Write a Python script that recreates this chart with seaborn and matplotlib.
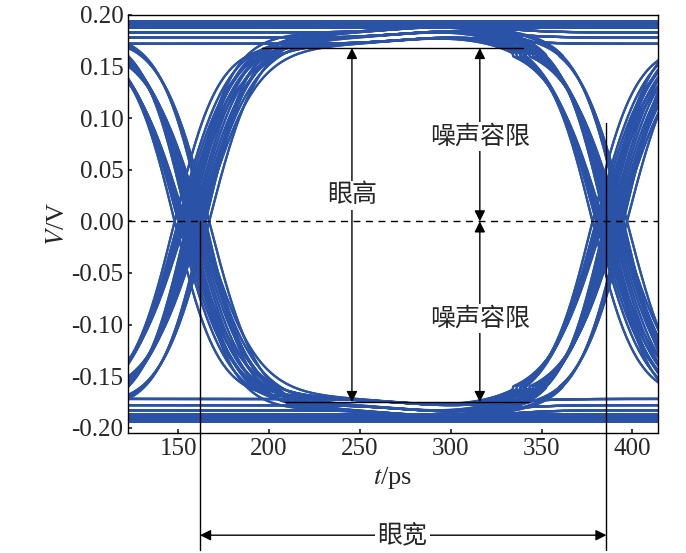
import numpy as np
import matplotlib
matplotlib.use("Agg")
import matplotlib.pyplot as plt
import seaborn as sns

sns.set_theme(style="ticks")
plt.rcParams['font.family'] = ['Liberation Serif', 'Noto Sans CJK SC']
plt.rcParams['mathtext.fontset'] = 'stix'

# eye-diagram parameters
crossings = [-73, 157, 387, 617]          # ps, bit boundaries
jitter = [-7, -4, -1, 2, 5, 8]            # ps, crossing spread
levels = [0.172, 0.178, 0.183]            # V, settled level after a transition
rail = 0.19                               # V, steady level for long runs
width = [24, 27, 30]                      # ps, edge time constant
patterns = [(0, 1, 0), (1, 0, 1), (0, 1, 1), (1, 0, 0), (1, 1, 0), (0, 0, 1)]
eye_top, eye_bot = 0.168, -0.175
xticks = [150, 200, 250, 300, 350, 400]
yticks = [-0.20, -0.15, -0.10, -0.05, 0.00, 0.05, 0.10, 0.15, 0.20]

fig = plt.figure(figsize=(6.86, 5.53), dpi=100)
ax = fig.add_axes([0.187, 0.217, 0.772, 0.756])
col = '#2a52a6'
t = np.linspace(115, 420, 600)

def edge(t, tc, w):
    return np.tanh((t - tc) / w)

for i, (b0, b1, b2) in enumerate(patterns):
    bits = [1 - b0, b0, b1, b2]
    for j, jt in enumerate(jitter):
        for k, lv in enumerate(levels):
            w = width[(j + k) % 3]
            s = 2 * bits[0] - 1
            y = s * lv * np.ones_like(t)
            for n in range(1, 4):
                d = (2 * bits[n] - 1) - (2 * bits[n - 1] - 1)
                if d != 0:
                    y = y + d / 2 * lv * (1 + edge(t, crossings[n - 1] + jt + (k - 1) * 2, w))
            bump = 0.006 * np.exp(-((t - 300) / 40) ** 2)
            y = y + np.sign(y) * bump * (np.abs(y) > 0.16)
            sns.lineplot(x=t, y=y, ax=ax, color=col, lw=1.6)
ax.axhspan(rail - 0.004, rail + 0.005, color=col, lw=0)
ax.axhspan(-rail - 0.005, -rail + 0.004, color=col, lw=0)

ax.set_xlim(122.5, 414)
ax.set_ylim(-0.205, 0.20)
ax.set_xticks(xticks)
ax.set_yticks(yticks)
ax.set_yticklabels([f"{v:.2f}" for v in yticks])
ax.tick_params(direction='in', labelsize=18, length=3)
for s in ax.spines.values():
    s.set_color('black'); s.set_linewidth(1)

ax.axhline(0, color='black', lw=1, ls=(0, (5, 4)))
ax.plot([196, 340], [eye_top] * 2, color='black', lw=1)
ax.plot([209, 343], [eye_bot] * 2, color='black', lw=1)
ap = dict(arrowstyle='<|-|>', color='black', lw=1, mutation_scale=16, shrinkA=0, shrinkB=0)
ax.annotate('', xy=(245.6, eye_top), xytext=(245.6, eye_bot), arrowprops=ap)
ax.annotate('', xy=(316, eye_top), xytext=(316, 0), arrowprops=ap)
ax.annotate('', xy=(316, 0), xytext=(316, eye_bot), arrowprops=ap)
bb = dict(facecolor='white', edgecolor='none', pad=2)
ax.text(245.6, 0.025, '眼高', ha='center', va='center', fontsize=18, bbox=bb)
ax.text(316, 0.082, '噪声容限', ha='center', va='center', fontsize=18, bbox=bb)
ax.text(316, -0.094, '噪声容限', ha='center', va='center', fontsize=18, bbox=bb)

# eye width markers extending below the axes
ax.plot([162, 162], [0, -0.318], color='black', lw=1, clip_on=False)
ax.plot([385.7, 385.7], [0.095, -0.318], color='black', lw=1, clip_on=False)
ax.annotate('', xy=(162, -0.304), xytext=(385.7, -0.304), annotation_clip=False,
            arrowprops=ap)
ax.text(273.5, -0.304, '眼宽', ha='center', va='center', fontsize=18, bbox=bb)

ax.set_xlabel(r'$t$/ps', fontsize=19, labelpad=4)
ax.set_ylabel(r'$V$/V', fontsize=19, labelpad=2)
fig.savefig('out.png', dpi=100)
